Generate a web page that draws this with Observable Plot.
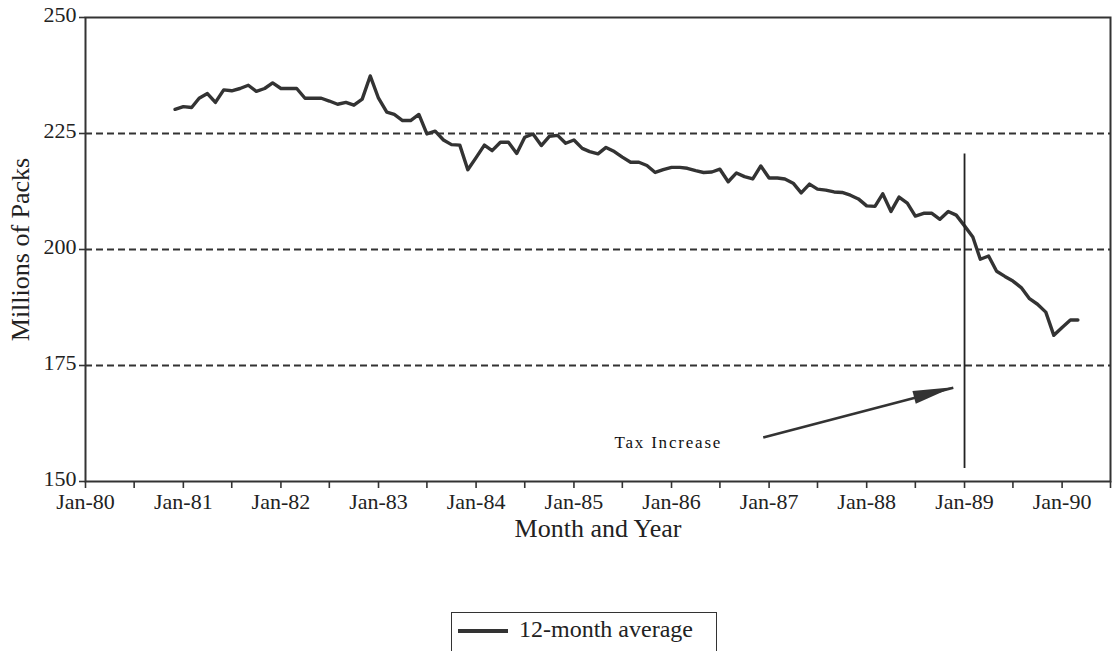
<!DOCTYPE html>
<html>
<head>
<meta charset="utf-8">
<script src="https://cdn.jsdelivr.net/npm/d3@7"></script>
<script src="https://cdn.jsdelivr.net/npm/@observablehq/plot@0.6"></script>
<style>
  html, body { margin: 0; padding: 0; background: #fff; }
  #wrap { position: relative; width: 1112px; height: 651px; overflow: hidden; font-family: "Liberation Serif", "Times New Roman", serif; color: #222; }
  #legend { position: absolute; left: 451px; top: 612px; width: 266px; height: 44px; box-sizing: border-box;
            border: 1.6px solid #333; display: flex; align-items: flex-start; padding-top: 3px; font-size: 24px; color: #222; }
  #legend .swatch { width: 50px; height: 4px; background: #333; margin: 13px 11px 0 6px; }
  .taxlabel text { letter-spacing: 1.8px; }
</style>
</head>
<body>
<div id="wrap">
  <div id="chart"></div>
  <div id="legend"><div class="swatch"></div><span id="legendText"></span></div>
</div>
<script>
// ---------------- data ----------------
// first month of the series (Dec 1980), then one value per month through Mar 1990
const startYear = 1980;
const startMonthIndex = 11; // months after Jan-80
const packs = [
  230.2, // Dec-80
  230.8, 230.6, 232.6, 233.6, 231.7, 234.4, 234.2, 234.7, 235.4, 234.1, 234.7, 235.9, // 1981
  234.7, 234.7, 234.7, 232.6, 232.6, 232.6, 232.0, 231.3, 231.7, 231.1, 232.4, 237.4, // 1982
  232.6, 229.6, 229.1, 227.8, 227.8, 229.1, 224.9, 225.5, 223.6, 222.6, 222.5, 217.2, // 1983
  219.8, 222.5, 221.3, 223.1, 223.1, 220.7, 224.2, 224.9, 222.4, 224.4, 224.6, 222.9, // 1984
  223.6, 221.8, 221.1, 220.6, 222.0, 221.1, 219.9, 218.8, 218.8, 218.1, 216.6, 217.2, // 1985
  217.7, 217.7, 217.5, 217.0, 216.6, 216.7, 217.3, 214.6, 216.5, 215.7, 215.2, 218.0, // 1986
  215.4, 215.4, 215.2, 214.3, 212.2, 214.1, 213.0, 212.8, 212.4, 212.3, 211.7, 210.9, // 1987
  209.4, 209.3, 212.0, 208.2, 211.3, 210.0, 207.2, 207.8, 207.8, 206.5, 208.2, 207.4, // 1988
  205.1, 202.7, 197.9, 198.6, 195.3, 194.2, 193.2, 191.8, 189.4, 188.2, 186.5, 181.5, // 1989
  183.2, 184.8, 184.8  // Jan-Mar 1990
];
const yTicks = [150, 175, 200, 225, 250];
const gridLines = [175, 200, 225];
const xTickYears = [1980, 1981, 1982, 1983, 1984, 1985, 1986, 1987, 1988, 1989, 1990];
const seriesName = "12-month average";
const yLabel = "Millions of Packs";
const xLabel = "Month and Year";
// annotation: vertical marker at the tax increase, with label and arrow
const taxDate = [new Date(Date.UTC(1989, 0, 1))];
const taxRange = [152.8, 220.6];
const annotationText = ["Tax Increase"];
const annotationPos = [{date: new Date(Date.UTC(1985, 11, 20)), value: 158.3}];
const arrowFrom = {date: new Date(Date.UTC(1986, 11, 10)), value: 159.5};
const arrowTo = {date: new Date(Date.UTC(1988, 10, 20)), value: 170.2};

// ---------------- build ----------------
const data = packs.map((v, i) => ({date: new Date(Date.UTC(startYear, startMonthIndex + i, 1)), value: v}));
const xTicks = [];
xTickYears.forEach(y => { xTicks.push(new Date(Date.UTC(y, 0, 1))); xTicks.push(new Date(Date.UTC(y, 6, 1))); });
const fmt = d => d.getUTCMonth() === 0 ? "Jan-" + String(d.getUTCFullYear()).slice(2) : "";

const plot = Plot.plot({
  width: 1112,
  height: 600,
  marginLeft: 85,
  marginRight: 2,
  marginTop: 17,
  marginBottom: 119,
  style: {fontFamily: "Liberation Serif, Times New Roman, serif", fontSize: "22px", color: "#222", background: "white", overflow: "visible"},
  x: {type: "utc", domain: [new Date(Date.UTC(1980, 0, 1)), new Date(Date.UTC(1990, 6, 1))]},
  y: {domain: [150, 250]},
  marks: [
    Plot.ruleY(gridLines, {stroke: "#333", strokeWidth: 2, strokeDasharray: "7,4"}),
    Plot.frame({stroke: "#333", strokeWidth: 2}),
    // y tick marks
    Plot.axisY({ticks: yTicks, tickSize: 6, tickFormat: () => "", label: null, stroke: "#333", strokeWidth: 1.6}),
    // y tick labels, nudged up slightly
    Plot.axisY({ticks: yTicks, tickSize: 0, tickPadding: 9, dy: -3, label: null, fontSize: 22}),
    Plot.axisX({ticks: xTicks, tickSize: 7, tickPadding: 5, tickFormat: fmt, label: null, fontSize: 22, stroke: "#333", strokeWidth: 1.6}),
    Plot.line(data, {x: "date", y: "value", stroke: "#333", strokeWidth: 3.4, strokeLinejoin: "round", strokeLinecap: "round"}),
    Plot.ruleX(taxDate, {y1: taxRange[0], y2: taxRange[1], stroke: "#222", strokeWidth: 1.8}),
    Plot.link([arrowFrom], {x1: "date", y1: "value", x2: () => arrowTo.date, y2: () => arrowTo.value, stroke: "#333", strokeWidth: 2.6}),
    Plot.text(annotationText, {x: () => annotationPos[0].date, y: () => annotationPos[0].value, text: d => d, fontSize: 17, textAnchor: "middle", fill: "#111", className: "taxlabel"}),
    Plot.text([yLabel], {frameAnchor: "left", rotate: -90, dx: -65, textAnchor: "middle", fontSize: 26, fill: "#222"}),
    Plot.text([xLabel], {frameAnchor: "bottom", dy: 55, textAnchor: "middle", fontSize: 26, fill: "#222"})
  ]
});

// arrowhead (filled) placed through the plot's own scales
const xs = plot.scale("x"), ys = plot.scale("y");
const sx = xs.apply(arrowFrom.date), sy = ys.apply(arrowFrom.value);
const ex = xs.apply(arrowTo.date), ey = ys.apply(arrowTo.value);
const len = Math.hypot(ex - sx, ey - sy);
const ux = (ex - sx) / len, uy = (ey - sy) / len;
const bx = ex - ux * 40, by = ey - uy * 40;
const nx = -uy, ny = ux;
d3.select(plot).append("polygon")
  .attr("points", [[ex, ey], [bx + nx * 6.5, by + ny * 6.5], [bx - nx * 6.5, by - ny * 6.5]].map(p => p.join(",")).join(" "))
  .attr("fill", "#333");
d3.select(plot).selectAll("text").filter(function () { return this.textContent === annotationText[0]; })
  .style("letter-spacing", "1.8px");

document.getElementById("chart").appendChild(plot);
document.getElementById("legendText").textContent = seriesName;
</script>
</body>
</html>
